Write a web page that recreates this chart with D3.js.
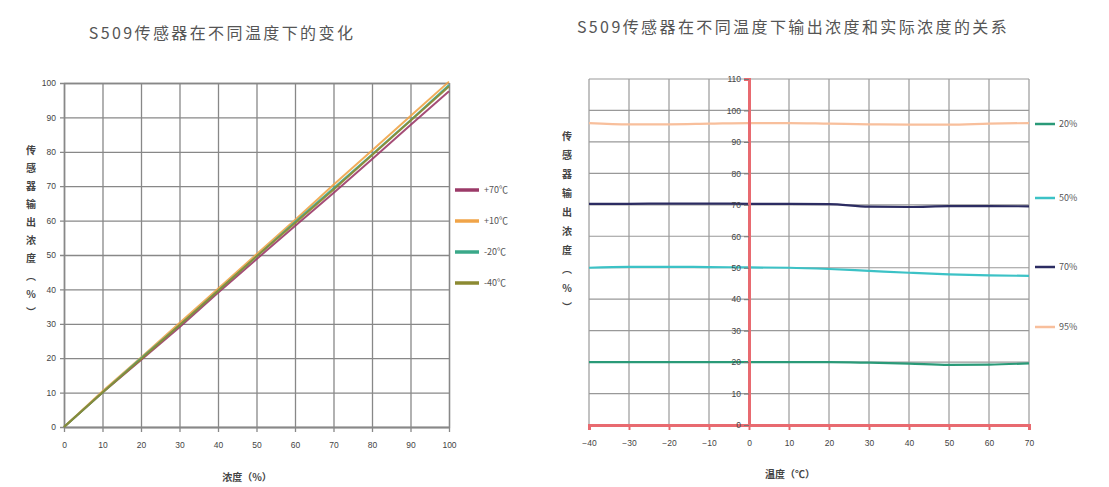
<!DOCTYPE html>
<html>
<head>
<meta charset="utf-8">
<script src="https://cdn.jsdelivr.net/npm/d3@7"></script>
<style>
  body { margin: 0; background: #fff; }
  svg { font-family: "Noto Sans CJK SC", "DejaVu Sans", sans-serif; }
  .title { font-size: 16px; fill: #555; letter-spacing: 2.4px; }
  .tick text { font-size: 8.5px; fill: #444; }
  .lab { font-size: 10px; fill: #444; font-weight: bold; }
  .leg { font-size: 9px; fill: #555; }
</style>
</head>
<body>
<div id="chart"></div>
<script>
// 左图：不同温度下的变化
const concX = [0, 10, 20, 30, 40, 50, 60, 70, 80, 90, 100]
const tempNames = ['+70℃', '+10℃', '-20℃', '-40℃']
const tempColors = ['#9b3a68', '#f0a448', '#3aa889', '#8c8a32']
const p70 = [0, 10, 19.5, 29, 39, 48.8, 58.4, 68, 77.8, 87.8, 97.6]
const p10 = [0, 10.4, 20.2, 30.2, 40.2, 50.2, 60.2, 70.4, 80.4, 90.4, 100.4]
const m20 = [0, 10, 20, 29.6, 39.6, 49.6, 59.6, 69.4, 79.2, 89.2, 99.4]
const m40 = [0, 10, 19.7, 29.6, 39.5, 49.6, 59.2, 69, 79, 89, 99]
const leftSeries = [p70, p10, m20, m40]

// 右图：输出浓度和实际浓度
const tempX = [-40, -30, -20, -10, 0, 10, 20, 30, 40, 50, 60, 70]
const concNames = ['20%', '50%', '70%', '95%']
const concColors = ['#2a9a78', '#3cc2c6', '#2c2c62', '#f8bf9c']
const c20 = [20, 20, 20, 20, 20, 20, 20, 19.8, 19.5, 19.1, 19.2, 19.6]
const c50 = [50, 50.3, 50.3, 50.2, 50.1, 50, 49.6, 49, 48.4, 47.9, 47.6, 47.4]
const c70 = [70.3, 70.3, 70.4, 70.4, 70.3, 70.3, 70.2, 69.4, 69.3, 69.6, 69.6, 69.5]
const c95 = [96, 95.6, 95.6, 95.8, 96, 96, 95.8, 95.6, 95.5, 95.5, 95.8, 96]
const rightSeries = [c20, c50, c70, c95]

const yLabelChars = ['传', '感', '器', '输', '出', '浓', '度', '︵', '%', '︶']

const svg = d3.select('#chart').append('svg')
  .attr('width', 1109).attr('height', 487)

function vLabel(x, y0, step) {
  const t = svg.append('text').attr('class', 'lab').attr('text-anchor', 'middle')
  yLabelChars.forEach((c, i) => {
    t.append('tspan').attr('x', x).attr('y', y0 + i * step).text(c)
  })
}

// ---------- 左图 ----------
const lx = d3.scaleLinear().domain([0, 100]).range([64, 449])
const ly = d3.scaleLinear().domain([0, 100]).range([427, 83])

svg.append('text').attr('class', 'title').attr('x', 222).attr('y', 39)
  .attr('text-anchor', 'middle').text('S509传感器在不同温度下的变化')

const lgX = svg.append('g').attr('transform', 'translate(0,427)')
  .call(d3.axisBottom(lx).tickValues(concX).tickSize(-(427 - 83)).tickPadding(15))
const lgY = svg.append('g').attr('transform', 'translate(64,0)')
  .call(d3.axisLeft(ly).tickValues(concX).tickSize(-(449 - 64)).tickPadding(8))
;[lgX, lgY].forEach(g => {
  g.select('.domain').attr('stroke', '#888').attr('stroke-width', 1.3)
  g.selectAll('.tick line').attr('stroke', '#888').attr('stroke-width', 1.3)
})
lgY.selectAll('.tick line').attr('x1', -4)
lgX.selectAll('.tick line').attr('y1', 5)

const lline = d3.line().x((d, i) => lx(concX[i])).y(d => ly(d))
leftSeries.forEach((s, k) => {
  svg.append('path').datum(s).attr('d', lline)
    .attr('fill', 'none').attr('stroke', tempColors[k]).attr('stroke-width', 2)
    .attr('opacity', 0.9)
})

const legL = [190, 221, 252, 283]
tempNames.forEach((n, k) => {
  svg.append('line').attr('x1', 455).attr('x2', 479).attr('y1', legL[k]).attr('y2', legL[k])
    .attr('stroke', tempColors[k]).attr('stroke-width', 3.5)
  svg.append('text').attr('class', 'leg').attr('x', 484).attr('y', legL[k] + 3).text(n)
})

vLabel(31, 154, 18)
svg.append('text').attr('class', 'lab').attr('x', 247).attr('y', 481)
  .attr('text-anchor', 'middle').text('浓度（%）')

// ---------- 右图 ----------
const rx = d3.scaleLinear().domain([-40, 70]).range([589, 1029])
const ry = d3.scaleLinear().domain([0, 110]).range([425, 79])
const yTicksR = d3.range(0, 111, 10)

svg.append('text').attr('class', 'title').attr('x', 793).attr('y', 33)
  .attr('text-anchor', 'middle').text('S509传感器在不同温度下输出浓度和实际浓度的关系')

// 网格
svg.append('g').selectAll('line').data(tempX).join('line')
  .attr('x1', d => rx(d)).attr('x2', d => rx(d)).attr('y1', ry(110)).attr('y2', ry(0))
  .attr('stroke', '#999').attr('stroke-width', 1.2)
svg.append('g').selectAll('line').data(yTicksR).join('line')
  .attr('x1', rx(-40)).attr('x2', rx(70)).attr('y1', d => ry(d)).attr('y2', d => ry(d))
  .attr('stroke', '#999').attr('stroke-width', 1.2)

const rline = d3.line().x((d, i) => rx(tempX[i])).y(d => ry(d)).curve(d3.curveMonotoneX)
rightSeries.forEach((s, k) => {
  svg.append('path').datum(s).attr('d', rline)
    .attr('fill', 'none').attr('stroke', concColors[k]).attr('stroke-width', 2.2)
})

// 红色坐标轴
const rgX = svg.append('g').attr('transform', `translate(0,${ry(0)})`)
  .call(d3.axisBottom(rx).tickValues(tempX).tickSize(5).tickPadding(10))
rgX.select('.domain').attr('stroke', '#e86a70').attr('stroke-width', 3)
rgX.selectAll('.tick line').attr('stroke', '#e86a70').attr('stroke-width', 2)
const rgY = svg.append('g').attr('transform', `translate(${rx(0)},0)`)
  .call(d3.axisLeft(ry).tickValues(yTicksR).tickSize(5).tickPadding(3))
rgY.select('.domain').attr('stroke', '#e86a70').attr('stroke-width', 3)
rgY.selectAll('.tick line').attr('stroke', '#777').attr('stroke-width', 1)

const legR = [124, 198, 267, 327]
concNames.forEach((n, k) => {
  svg.append('line').attr('x1', 1035).attr('x2', 1055).attr('y1', legR[k]).attr('y2', legR[k])
    .attr('stroke', concColors[k]).attr('stroke-width', 2.5)
  svg.append('text').attr('class', 'leg').attr('x', 1059).attr('y', legR[k] + 3).text(n)
})

vLabel(567, 140, 19)
svg.append('text').attr('class', 'lab').attr('x', 790).attr('y', 478)
  .attr('text-anchor', 'middle').text('温度（℃）')
</script>
</body>
</html>
